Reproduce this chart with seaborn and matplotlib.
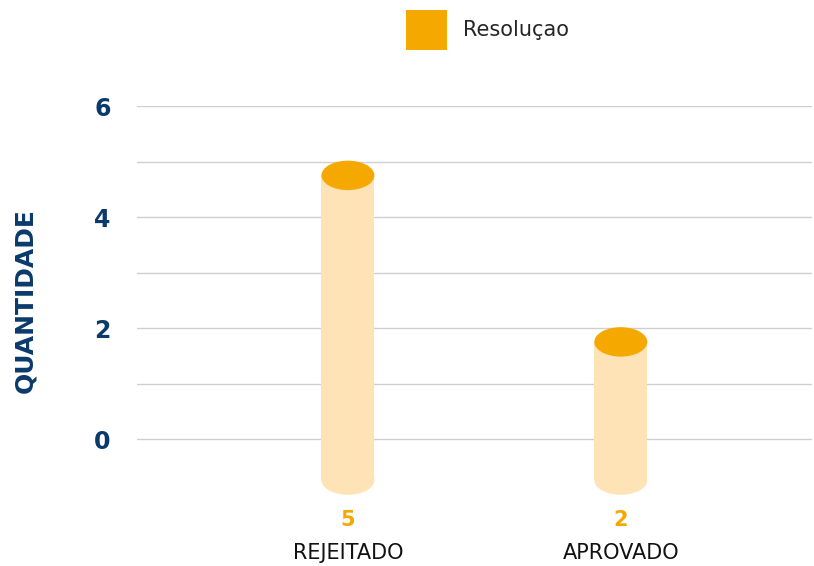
import matplotlib
matplotlib.use("Agg")
import matplotlib.pyplot as plt
import matplotlib.transforms as mtransforms
from matplotlib.patches import Ellipse, Patch
import seaborn as sns
import pandas as pd

# chart data
categories = ["REJEITADO", "APROVADO"]
values = [5, 2]
series_name = "Resoluçao"
y_ticks = [0, 1, 2, 3, 4, 5, 6]
y_labels = ["0", "", "2", "", "4", "", "6"]

# 3d cylinder look
top_color = "#F5A800"
body_color = "#FDE3B6"
navy = "#0A3A6B"
base = -0.74        # cylinder floor sits below the zero line
depth = 0.25        # top cap drawn a bit under the value
cap_h = 0.53        # ellipse height in data units
bar_w = 0.194

df = pd.DataFrame({"cat": categories, "val": values})
df["h"] = df["val"] - depth - base

sns.set_style("white")
fig = plt.figure(figsize=(8.14, 5.66), dpi=100)
ax = fig.add_axes([0.1683, 0.1263, 0.829, 0.6864])

sns.barplot(data=df, x="cat", y="h", color=body_color, saturation=1,
            width=bar_w, ax=ax, zorder=3, linewidth=0)

for p in ax.patches:
    p.set_y(base)
    cx = p.get_x() + p.get_width() / 2
    top = base + p.get_height()
    # bottom cap (rounded floor) and top cap
    ax.add_patch(Ellipse((cx, base), p.get_width(), cap_h, color=body_color, zorder=2.9, lw=0))
    ax.add_patch(Ellipse((cx, top), p.get_width(), cap_h, color=top_color, zorder=4, lw=0))

ax.set_xlim(-0.773, 1.70)
ax.set_ylim(-1.0, 6.0)
ax.set_yticks(y_ticks)
ax.set_yticklabels(y_labels)
ax.grid(axis="y", color="#CFCFCF", lw=1, zorder=0)
for s in ax.spines.values():
    s.set_visible(False)
ax.tick_params(axis="y", length=3, color="#BBBBBB", pad=16,
               labelsize=17, labelcolor=navy)
for t in ax.get_yticklabels():
    t.set_fontweight("bold")
ax.set_ylabel("QUANTIDADE", fontsize=18, fontweight="bold", color=navy, labelpad=41)
ax.set_xlabel("")
ax.set_xticks([])

trans = mtransforms.blended_transform_factory(ax.transData, ax.transAxes)
for i, (c, v) in enumerate(zip(categories, values)):
    ax.text(i, -0.066, str(v), transform=trans, ha="center", va="center",
            fontsize=15, fontweight="bold", color=top_color)
    ax.text(i, -0.150, c, transform=trans, ha="center", va="center",
            fontsize=15, color="#111111")

handle = Patch(facecolor=top_color, edgecolor="none")
fig.legend([handle], [series_name], loc="center", bbox_to_anchor=(0.599, 0.947),
           frameon=False, fontsize=15, handlelength=1.95, handleheight=2.6,
           handletextpad=0.8)

fig.savefig("out.png", dpi=100)
